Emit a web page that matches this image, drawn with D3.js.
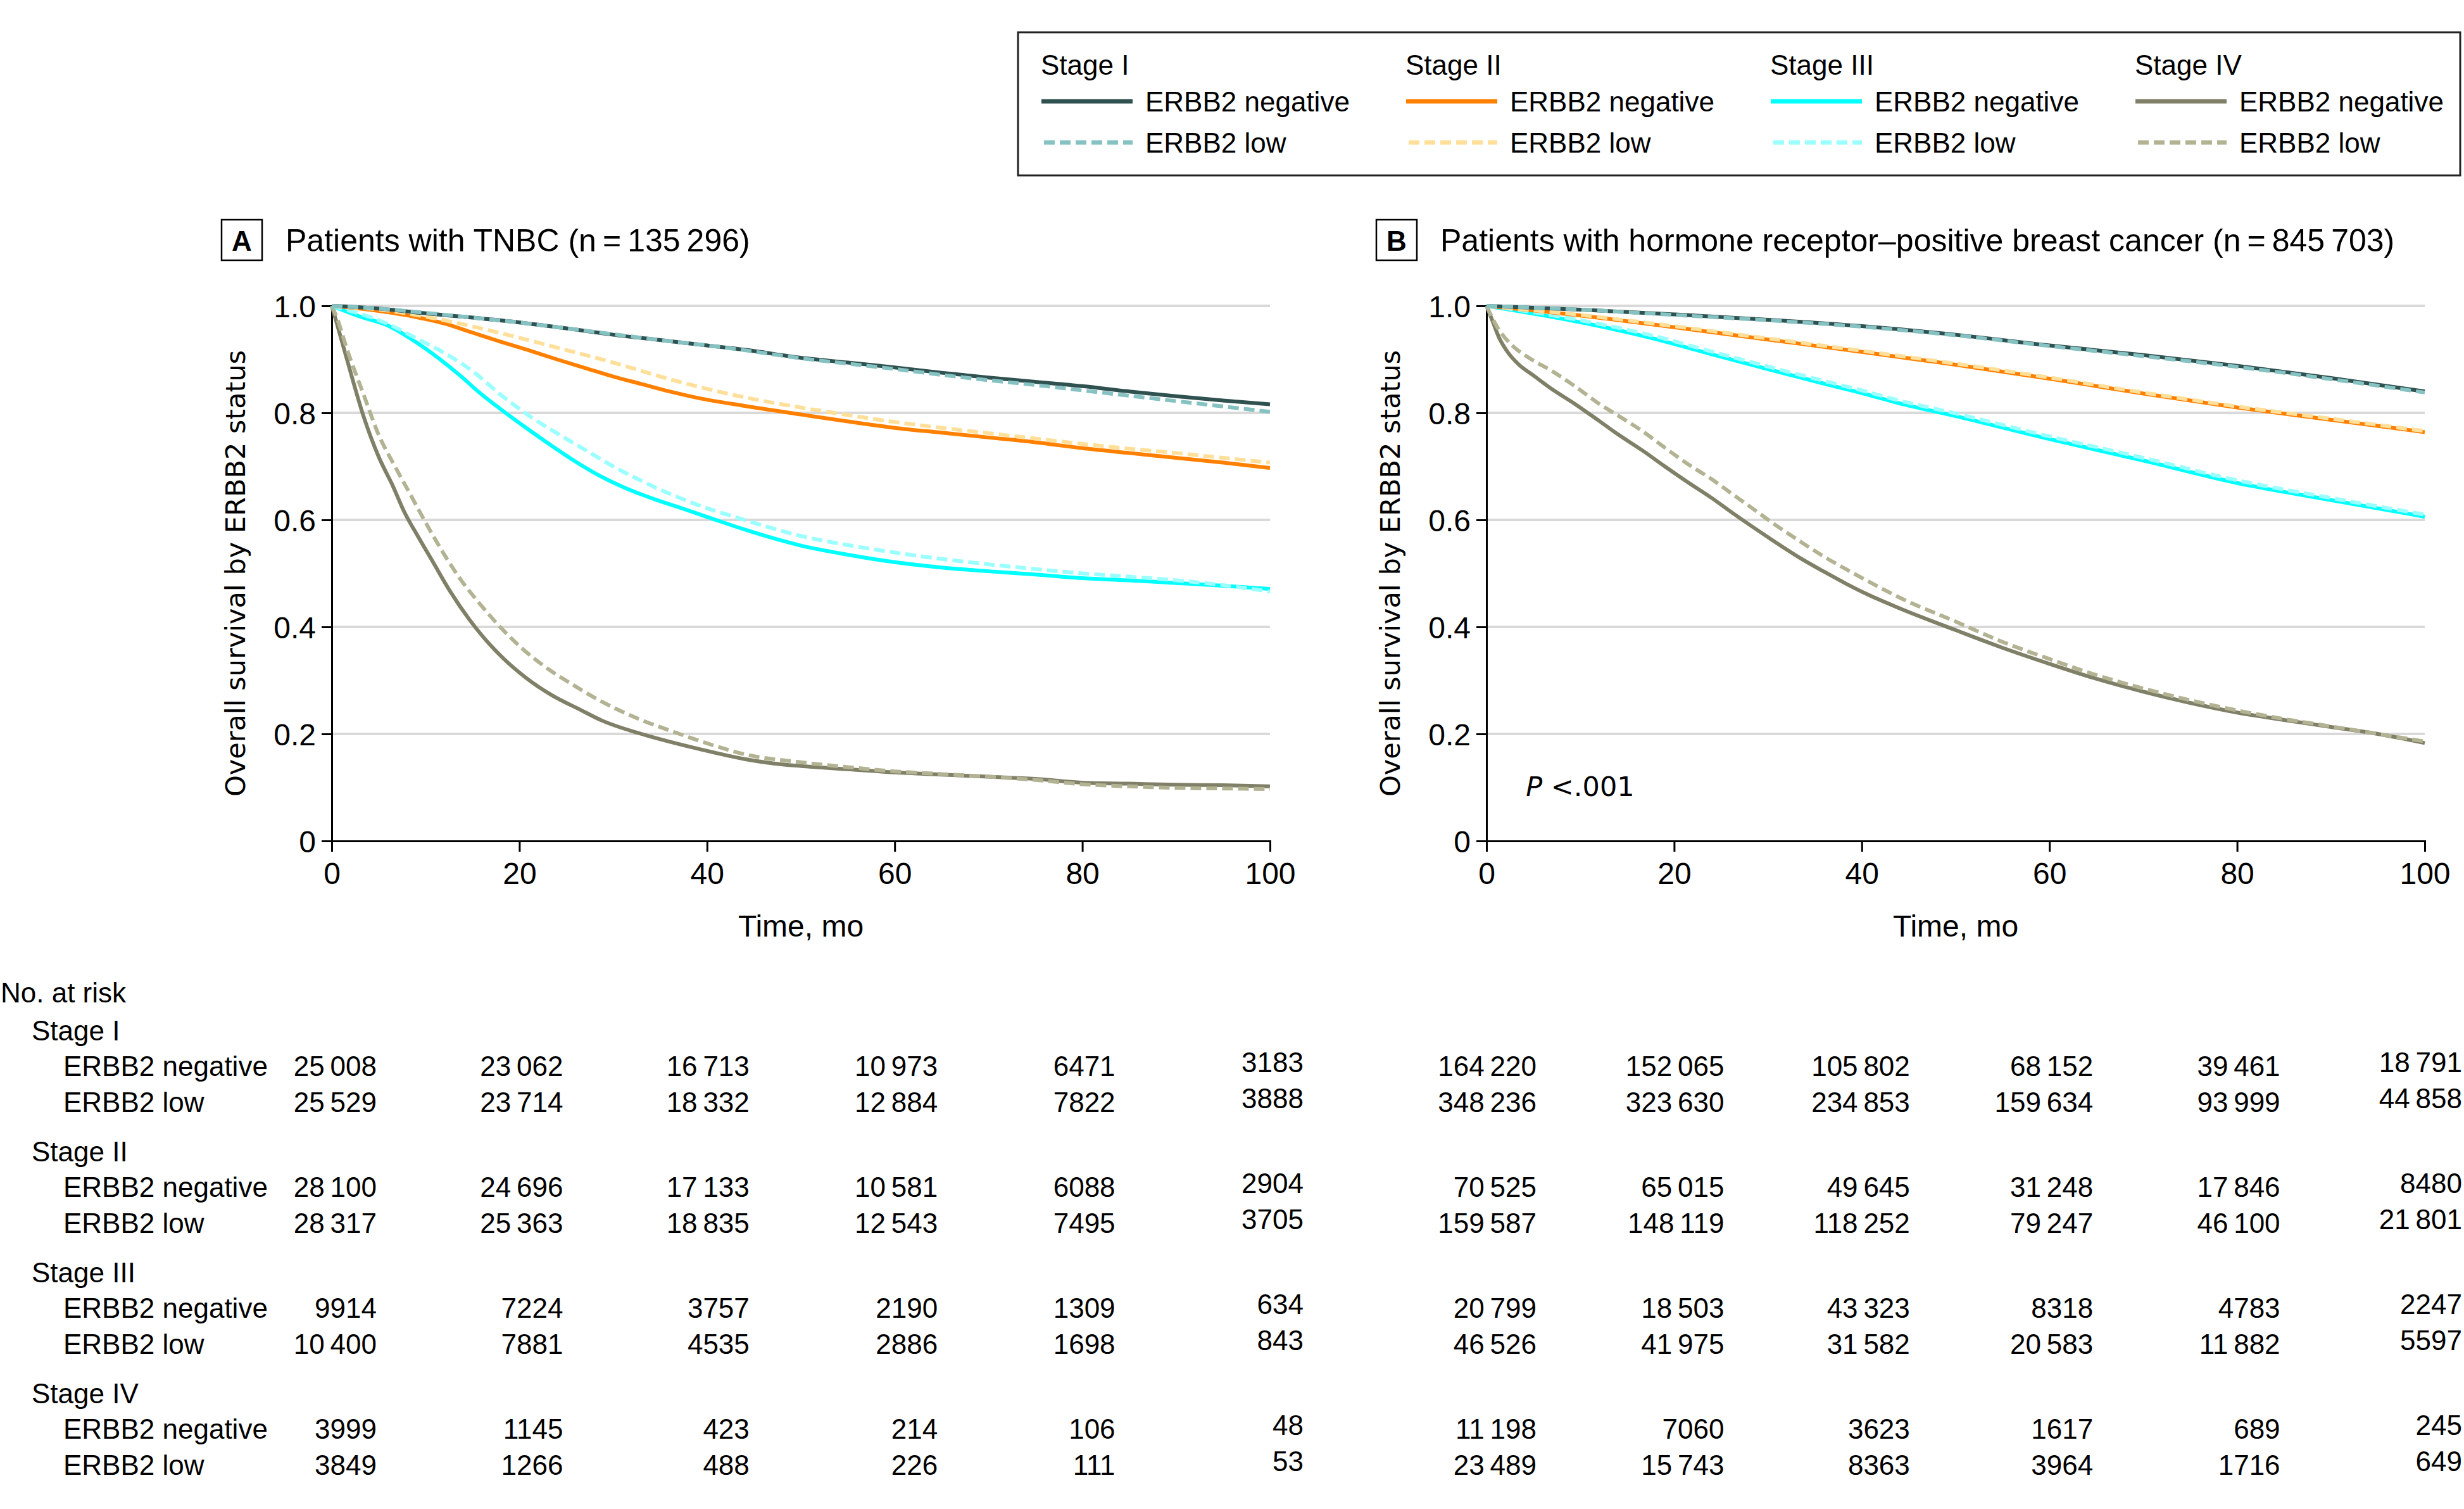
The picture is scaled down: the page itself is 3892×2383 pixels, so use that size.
<!DOCTYPE html>
<html>
<head>
<meta charset="utf-8">
<script src="https://cdn.jsdelivr.net/npm/d3@7"></script>
<style>
body { margin: 0; background: #fff; }
text { font-family: "Liberation Sans", Arial, sans-serif; fill: #000; }
</style>
</head>
<body>
<svg id="chart" width="3892" height="2383"></svg>
<script>
// ---- data ----
const stages = ["Stage I", "Stage II", "Stage III", "Stage IV"];
const groups = ["ERBB2 negative", "ERBB2 low"];
const riskTimes = [0, 20, 40, 60, 80, 100];
const xTicks = [0, 20, 40, 60, 80, 100];
const yTicks = [0, 0.2, 0.4, 0.6, 0.8, 1.0];

// panel A: TNBC, [month, survival]
const tnbcNeg1 = [[0,1],[5,0.995],[10,0.986],[15,0.978],[20,0.969],[25,0.958],[30,0.946],[35,0.936],[40,0.926],[44,0.918],[50,0.903],[55,0.894],[60,0.885],[65,0.875],[70,0.866],[75,0.858],[80,0.850],[85,0.840],[90,0.831],[95,0.823],[100,0.816]];
const tnbcLow1 = [[0,1],[5,0.995],[10,0.987],[15,0.978],[20,0.969],[25,0.958],[30,0.947],[35,0.936],[40,0.926],[44,0.917],[50,0.902],[55,0.892],[60,0.882],[65,0.871],[70,0.861],[75,0.852],[80,0.842],[85,0.832],[90,0.822],[95,0.812],[100,0.802]];
const tnbcNeg2 = [[0,1],[3,0.995],[6,0.988],[9,0.979],[12,0.967],[15,0.950],[18,0.933],[21,0.917],[24,0.900],[27,0.884],[30,0.868],[33,0.854],[36,0.840],[39,0.828],[44,0.813],[50,0.797],[55,0.784],[60,0.772],[65,0.763],[70,0.754],[75,0.745],[80,0.734],[85,0.725],[90,0.716],[95,0.707],[100,0.697]];
const tnbcLow2 = [[0,1],[6,0.991],[12,0.973],[18,0.949],[24,0.922],[30,0.894],[36,0.863],[44,0.829],[50,0.810],[55,0.796],[60,0.783],[65,0.772],[70,0.762],[75,0.752],[80,0.742],[85,0.733],[90,0.725],[95,0.716],[100,0.707]];
const tnbcNeg3 = [[0,1],[3,0.980],[6,0.963],[9,0.932],[11.4,0.902],[13.8,0.868],[15.6,0.840],[18,0.807],[20.4,0.776],[23.4,0.739],[25.8,0.711],[28.5,0.683],[31.5,0.658],[34.5,0.638],[37.6,0.620],[40.6,0.602],[44,0.582],[47,0.566],[50,0.552],[55,0.535],[60,0.521],[65,0.511],[70,0.504],[75,0.498],[80,0.491],[85,0.487],[90,0.482],[95,0.477],[100,0.471]];
const tnbcLow3 = [[0,1],[6,0.966],[9.5,0.935],[12,0.912],[15,0.878],[18,0.834],[21,0.795],[24,0.762],[27,0.731],[30,0.700],[33,0.673],[36,0.649],[39,0.628],[44,0.600],[50,0.570],[55,0.553],[60,0.539],[65,0.527],[70,0.517],[75,0.508],[80,0.500],[85,0.494],[90,0.487],[95,0.478],[100,0.466]];
const tnbcNeg4 = [[0,1],[0.5,0.97],[1.7,0.895],[3.4,0.793],[5,0.718],[6.5,0.664],[7.7,0.616],[9.2,0.569],[10.8,0.521],[12.6,0.467],[14.7,0.413],[16.2,0.380],[18.3,0.341],[20.7,0.305],[23.4,0.273],[26.4,0.246],[28.8,0.225],[33,0.200],[36.1,0.185],[39.1,0.172],[44,0.153],[47,0.145],[50,0.140],[55,0.134],[60,0.128],[65,0.124],[70,0.120],[75,0.116],[80,0.109],[85,0.107],[90,0.105],[95,0.104],[100,0.102]];
const tnbcLow4 = [[0,1],[0.5,0.98],[1.7,0.915],[3.4,0.834],[5,0.759],[6.8,0.698],[8.3,0.650],[10.2,0.589],[12,0.535],[13.8,0.487],[15.6,0.447],[18,0.399],[20.4,0.358],[23.1,0.321],[25.5,0.294],[28.5,0.263],[33,0.226],[36.1,0.206],[40.6,0.179],[44,0.162],[50,0.147],[55,0.138],[60,0.130],[65,0.125],[70,0.120],[75,0.114],[80,0.106],[85,0.102],[90,0.099],[95,0.098],[100,0.097]];

// panel B: hormone receptor-positive
const hrNeg1 = [[0,1],[10,0.993],[20,0.984],[30,0.974],[40,0.962],[50,0.946],[60,0.926],[70,0.908],[80,0.888],[90,0.865],[100,0.840]];
const hrLow1 = [[0,1],[10,0.993],[20,0.983],[30,0.973],[40,0.961],[50,0.945],[60,0.925],[70,0.906],[80,0.886],[90,0.863],[100,0.838]];
const hrNeg2 = [[0,1],[10,0.982],[20,0.960],[30,0.937],[40,0.914],[50,0.890],[60,0.864],[70,0.836],[80,0.810],[90,0.787],[100,0.764]];
const hrLow2 = [[0,1],[10,0.983],[20,0.962],[30,0.939],[40,0.916],[50,0.892],[60,0.866],[70,0.838],[80,0.812],[90,0.789],[100,0.766]];
const hrNeg3 = [[0,1],[5.8,0.983],[11.8,0.963],[17.8,0.939],[23.9,0.910],[29.9,0.882],[35.9,0.855],[40,0.837],[44,0.818],[50,0.794],[60,0.751],[70,0.711],[80,0.669],[90,0.637],[100,0.606]];
const hrLow3 = [[0,1],[5.8,0.986],[11.8,0.967],[17.8,0.944],[23.9,0.915],[29.9,0.887],[35.9,0.860],[40,0.842],[44,0.823],[50,0.799],[60,0.756],[70,0.716],[80,0.674],[90,0.641],[100,0.610]];
const hrNeg4 = [[0,1],[0.7,0.969],[1.3,0.942],[2.2,0.915],[3.4,0.891],[5,0.870],[7,0.844],[9.4,0.817],[12,0.785],[14,0.760],[16.6,0.730],[19,0.700],[21.4,0.671],[24,0.641],[26.3,0.612],[28.7,0.583],[31,0.556],[33.5,0.528],[36,0.503],[38.3,0.481],[40.7,0.460],[44,0.435],[50,0.394],[55,0.361],[60,0.331],[65,0.303],[70,0.279],[75,0.258],[80,0.240],[85,0.226],[90,0.213],[95,0.200],[100,0.183]];
const hrLow4 = [[0,1],[1.3,0.956],[2.8,0.925],[4.6,0.902],[7,0.878],[9.4,0.850],[12,0.817],[14.2,0.793],[16.6,0.766],[19,0.735],[21.4,0.705],[24,0.676],[26.3,0.647],[28.7,0.617],[31,0.588],[33.5,0.559],[36,0.531],[38.3,0.508],[40.7,0.485],[44,0.455],[50,0.410],[55,0.372],[60,0.340],[65,0.310],[70,0.285],[75,0.263],[80,0.244],[85,0.228],[90,0.214],[95,0.200],[100,0.186]];

// numbers at risk, one row per stage, columns = riskTimes
const tnbcRiskNeg = [[25008,23062,16713,10973,6471,3183],[28100,24696,17133,10581,6088,2904],[9914,7224,3757,2190,1309,634],[3999,1145,423,214,106,48]];
const tnbcRiskLow = [[25529,23714,18332,12884,7822,3888],[28317,25363,18835,12543,7495,3705],[10400,7881,4535,2886,1698,843],[3849,1266,488,226,111,53]];
const hrRiskNeg = [[164220,152065,105802,68152,39461,18791],[70525,65015,49645,31248,17846,8480],[20799,18503,43323,8318,4783,2247],[11198,7060,3623,1617,689,245]];
const hrRiskLow = [[348236,323630,234853,159634,93999,44858],[159587,148119,118252,79247,46100,21801],[46526,41975,31582,20583,11882,5597],[23489,15743,8363,3964,1716,649]];

// ---- styles ----
const negColors = ["#2f5150", "#ff8000", "#00ffff", "#808068"];
const lowColors = ["#86c2c2", "#ffdf99", "#99ffff", "#b3b394"];
const dash = "17,8";

const svg = d3.select("#chart");
svg.append("rect").attr("width", 3892).attr("height", 2383).attr("fill", "#fff");

function fmt(n) {
    if (n >= 10000) return d3.format(",")(n).replace(/,/g, "\u2009");
    return String(n);
}

// legend
var leg = svg.append("g");
leg.append("rect").attr("x", 1608).attr("y", 51).attr("width", 2278).attr("height", 226)
    .attr("fill", "none").attr("stroke", "#222").attr("stroke-width", 3);
stages.forEach((s, i) => {
    var lx = 1644 + i * 576;
    leg.append("text").attr("x", lx).attr("y", 118).attr("font-size", 44).text(s);
    [0, 1].forEach(k => {
        var ly = 160 + k * 65;
        leg.append("line").attr("x1", lx + 1).attr("x2", lx + 145).attr("y1", ly).attr("y2", ly)
            .attr("stroke", k == 0 ? negColors[i] : lowColors[i])
            .attr("stroke-width", 7)
            .attr("stroke-dasharray", k == 0 ? null : dash)
            .attr("stroke-dashoffset", k == 0 ? null : -4);
        leg.append("text").attr("x", lx + 165).attr("y", ly + 16).attr("font-size", 44).text(groups[k]);
    });
});

function drawPanel(p) {
    var x = d3.scaleLinear().domain([0, 100]).range([p.left, p.left + 1482]);
    var y = d3.scaleLinear().domain([0, 1]).range([1328, 483]);
    var g = svg.append("g");

    // header
    g.append("rect").attr("x", p.left - 174).attr("y", 347).attr("width", 64).attr("height", 64)
        .attr("fill", "none").attr("stroke", "#000").attr("stroke-width", 2.5);
    g.append("text").attr("x", p.left - 142).attr("y", 396).attr("text-anchor", "middle")
        .attr("font-size", 44).attr("font-weight", "bold").text(p.letter);
    g.append("text").attr("x", p.left - 73).attr("y", 397).attr("font-size", 50).text(p.title);

    // gridlines
    g.selectAll(".grid").data(yTicks.filter(d => d > 0)).enter().append("line")
        .attr("x1", x(0)).attr("x2", x(100)).attr("y1", d => y(d)).attr("y2", d => y(d))
        .attr("stroke", "#d9d9d9").attr("stroke-width", 4);

    // axes
    var xAxis = g.append("g").attr("transform", "translate(0," + y(0) + ")")
        .call(d3.axisBottom(x).tickValues(xTicks).tickSize(17).tickPadding(15).tickFormat(d3.format("d")));
    var yAxis = g.append("g").attr("transform", "translate(" + x(0) + ",0)")
        .call(d3.axisLeft(y).tickValues(yTicks).tickSize(16).tickPadding(9)
            .tickFormat(d => d == 0 ? "0" : d3.format(".1f")(d)));
    [xAxis, yAxis].forEach(a => {
        a.select(".domain").attr("stroke", "#000").attr("stroke-width", 3);
        a.selectAll(".tick line").attr("stroke", "#000").attr("stroke-width", 3);
        a.selectAll(".tick text").attr("font-size", 48).attr("font-family", "Liberation Sans, Arial, sans-serif").attr("fill", "#000");
    });
    xAxis.selectAll(".tick text").attr("dy", "0.75em");
    yAxis.selectAll(".tick text").attr("dy", "0.36em");

    g.append("text").attr("x", x(50)).attr("y", 1479).attr("text-anchor", "middle")
        .attr("font-size", 48).text("Time, mo");
    g.append("text").attr("transform", "translate(" + (p.left - 137) + "," + y(0.5) + ") rotate(-90)")
        .attr("text-anchor", "middle").attr("font-size", 43)
        .style("font-family", "DejaVu Sans, sans-serif").text("Overall survival by ERBB2 status");

    // survival curves
    var line = d3.line().curve(d3.curveMonotoneX).x(d => x(d[0])).y(d => y(d[1]));
    for (var i = 3; i >= 0; i--) {
        g.append("path").attr("d", line(p.neg[i])).attr("fill", "none")
            .attr("stroke", negColors[i]).attr("stroke-width", 6).attr("stroke-linejoin", "round");
        g.append("path").attr("d", line(p.low[i])).attr("fill", "none")
            .attr("stroke", lowColors[i]).attr("stroke-width", 6).attr("stroke-dasharray", dash);
    }

    if (p.pval) {
        var pt = g.append("text").attr("x", x(4.2)).attr("y", y(0.084)).attr("font-size", 43)
            .style("font-family", "DejaVu Sans, sans-serif");
        pt.append("tspan").attr("font-style", "italic").text("P");
        pt.append("tspan").text(" <.001");
    }

    // numbers at risk
    stages.forEach((s, i) => {
        var gy = 1627 + i * 191;
        [p.riskNeg[i], p.riskLow[i]].forEach((row, k) => {
            var ry = gy + 56 + k * 57 + 16;
            g.selectAll(null).data(row).enter().append("text")
                .attr("x", (d, j) => x(riskTimes[j]) + p.offsets[j])
                .attr("y", (d, j) => j == 5 ? ry - 6 : ry)
                .attr("text-anchor", "end").attr("font-size", 44)
                .text(d => fmt(d));
        });
    });
}

// risk table labels
var rt = svg.append("g");
rt.append("text").attr("x", 1).attr("y", 1583).attr("font-size", 44).text("No. at risk");
stages.forEach((s, i) => {
    var gy = 1627 + i * 191;
    rt.append("text").attr("x", 50).attr("y", gy + 16).attr("font-size", 44).text(s);
    rt.append("text").attr("x", 100).attr("y", gy + 56 + 16).attr("font-size", 44).text(groups[0]);
    rt.append("text").attr("x", 100).attr("y", gy + 113 + 16).attr("font-size", 44).text(groups[1]);
});

drawPanel({
    left: 524, letter: "A", title: "Patients with TNBC (n\u2009=\u2009135\u2009296)",
    neg: [tnbcNeg1, tnbcNeg2, tnbcNeg3, tnbcNeg4], low: [tnbcLow1, tnbcLow2, tnbcLow3, tnbcLow4],
    riskNeg: tnbcRiskNeg, riskLow: tnbcRiskLow, offsets: [71, 69, 67, 68, 52, 53], pval: false
});
drawPanel({
    left: 2348, letter: "B", title: "Patients with hormone receptor\u2013positive breast cancer (n\u2009=\u2009845\u2009703)",
    neg: [hrNeg1, hrNeg2, hrNeg3, hrNeg4], low: [hrLow1, hrLow2, hrLow3, hrLow4],
    riskNeg: hrRiskNeg, riskLow: hrRiskLow, offsets: [79, 79, 76, 69, 68, 59], pval: true
});
</script>
</body>
</html>
